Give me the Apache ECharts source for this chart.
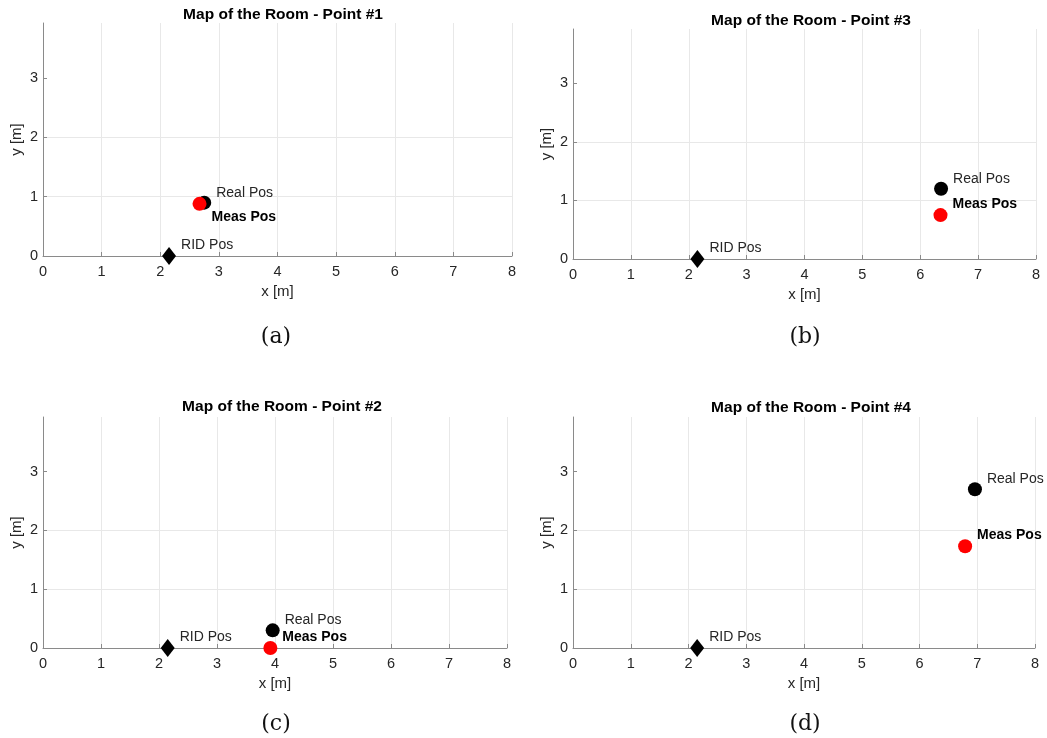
<!DOCTYPE html>
<html>
<head>
<meta charset="utf-8">
<script src="https://cdn.jsdelivr.net/npm/echarts@6/dist/echarts.min.js"></script>
<style>
  html, body { margin: 0; padding: 0; background: #fff; }
  #room_map { width: 1047px; height: 738px; }
</style>
</head>
<body>
<div id="room_map"></div>
<script>
// panels in reading order: (a) (b) (c) (d)
const panelTitles = ['Map of the Room - Point #1', 'Map of the Room - Point #3', 'Map of the Room - Point #2', 'Map of the Room - Point #4'];
const captions = ['(a)', '(b)', '(c)', '(d)'];
const ridX = [2.15, 2.15, 2.15, 2.15];
const ridY = [0, 0, 0, 0];
const realX = [2.75, 6.36, 3.96, 6.96];
const realY = [0.9, 1.2, 0.3, 2.7];
const measX = [2.67, 6.35, 3.92, 6.79];
const measY = [0.88, 0.75, 0, 1.73];
const xTicks = [0, 1, 2, 3, 4, 5, 6, 7, 8];
const yTicks = [0, 1, 2, 3];
const yTop = 3.93;

// pixel layout of each axes box
const boxes = [
  { left: 43, top: 23, width: 469, height: 233, titleX: 278, titleY: 2, capX: 271, capY: 321, measOff: 13 },
  { left: 573, top: 29, width: 463, height: 230, titleX: 806, titleY: 8, capX: 800, capY: 321, measOff: -11 },
  { left: 43, top: 417, width: 464, height: 231, titleX: 277, titleY: 394, capX: 271, capY: 708, measOff: -11 },
  { left: 573, top: 417, width: 462, height: 231, titleX: 806, titleY: 395, capX: 800, capY: 708, measOff: -11 }
];

const font = 'Liberation Sans, Arial, sans-serif';
const axisGray = '#8a8a8a';
const textGray = '#262626';

const init = () => {
  let chartDom = document.getElementById('room_map');
  let myChart = echarts.init(chartDom);
  let grid = [], xAxis = [], yAxis = [], series = [], title = [];

  boxes.forEach((b, i) => {
    grid.push({ left: b.left, top: b.top, width: b.width, height: b.height });
    title.push({
      text: panelTitles[i], left: b.titleX, top: b.titleY, textAlign: 'center',
      textStyle: { fontFamily: font, fontSize: 15.5, fontWeight: 'bold', color: '#000' }
    });
    title.push({
      text: captions[i], left: b.capX, top: b.capY, textAlign: 'center',
      textStyle: { fontFamily: 'DejaVu Serif, serif', fontSize: 22, fontWeight: 'normal', color: '#111' }
    });
    xAxis.push({
      type: 'value', gridIndex: i, min: 0, max: 8, interval: 1,
      name: 'x [m]', nameLocation: 'middle', nameGap: 28,
      nameTextStyle: { fontFamily: font, fontSize: 15, color: textGray },
      axisLine: { show: true, lineStyle: { color: axisGray, width: 1 } },
      axisTick: { show: true, inside: true, length: 4, lineStyle: { color: axisGray } },
      axisLabel: { fontFamily: font, fontSize: 14.5, color: textGray, margin: 8, customValues: xTicks },
      splitLine: { show: true, lineStyle: { color: '#e8e8e8', width: 1 } }
    });
    yAxis.push({
      type: 'value', gridIndex: i, min: 0, max: yTop, interval: 1,
      name: 'y [m]', nameLocation: 'middle', nameGap: 19,
      nameTextStyle: { fontFamily: font, fontSize: 15, color: textGray },
      axisLine: { show: true, lineStyle: { color: axisGray, width: 1 } },
      axisTick: { show: true, inside: true, length: 4, lineStyle: { color: axisGray }, customValues: yTicks },
      axisLabel: { fontFamily: font, fontSize: 14.5, color: textGray, margin: 5, customValues: yTicks },
      splitLine: { show: true, showMaxLine: false, lineStyle: { color: '#e8e8e8', width: 1 } }
    });

    const lbl = (txt, dy, bold) => ({
      show: true, position: 'right', distance: 5, offset: [0, dy],
      formatter: txt, fontFamily: font, fontSize: 14,
      fontWeight: bold ? 'bold' : 'normal', color: bold ? '#000' : textGray
    });

    series.push({
      type: 'scatter', xAxisIndex: i, yAxisIndex: i, symbol: 'diamond', symbolSize: [14, 18],
      itemStyle: { color: '#000', opacity: 1 }, label: lbl('RID Pos', -11, false),
      data: [[ridX[i], ridY[i]]], z: 3
    });
    series.push({
      type: 'scatter', xAxisIndex: i, yAxisIndex: i, symbol: 'circle', symbolSize: 14,
      itemStyle: { color: '#000', opacity: 1 }, label: lbl('Real Pos', -10, false),
      data: [[realX[i], realY[i]]], z: 3
    });
    series.push({
      type: 'scatter', xAxisIndex: i, yAxisIndex: i, symbol: 'circle', symbolSize: 14,
      itemStyle: { color: '#ff0000', opacity: 1 }, label: lbl('Meas Pos', b.measOff, true),
      data: [[measX[i], measY[i]]], z: 4
    });
  });

  let option = {
    animation: false,
    backgroundColor: '#fff',
    title: title,
    grid: grid,
    xAxis: xAxis,
    yAxis: yAxis,
    series: series
  };
  option && myChart.setOption(option);
};

init();
</script>
</body>
</html>
